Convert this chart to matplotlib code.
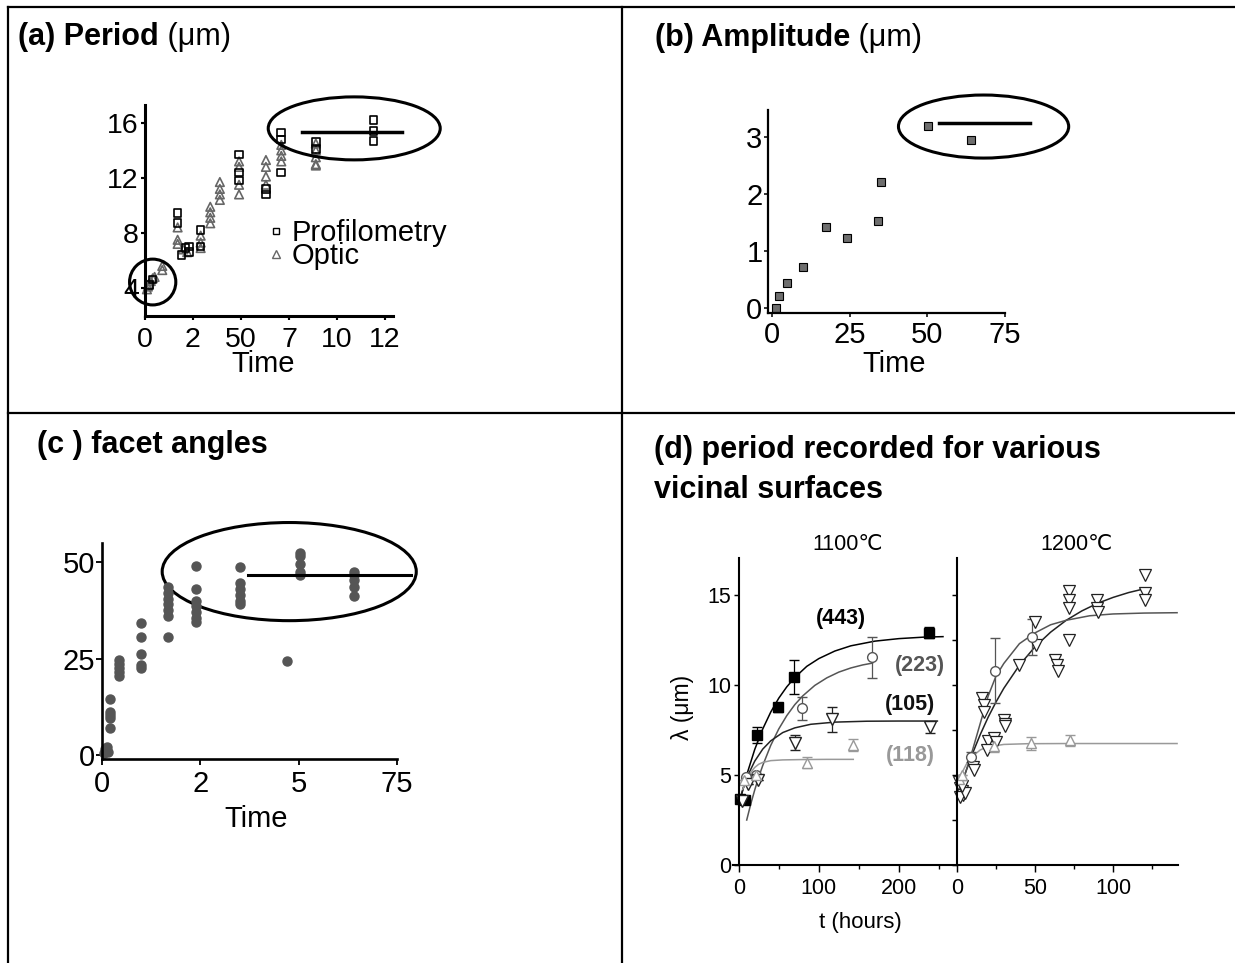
import numpy as np
import matplotlib
matplotlib.use('Agg')
import matplotlib.pyplot as plt
from matplotlib.patches import Ellipse
from matplotlib.lines import Line2D

plt.rcParams['font.family'] = ['Liberation Sans', 'DejaVu Sans', 'Noto Sans CJK SC']

W, H = 1235, 963

# ---- (a) period ----
a_prof_t = [2, 4, 17, 17, 19, 21, 23, 23, 29, 29, 49, 49, 49, 63, 63, 71, 71, 71, 89, 89, 119, 119, 119]
a_prof_y = [4.2, 4.6, 9.45, 8.7, 6.4, 6.9, 7.0, 6.6, 8.2, 7.0, 13.7, 12.4, 11.8, 11.2, 10.8,
            15.3, 14.8, 12.4, 14.6, 14.1, 16.2, 15.4, 14.7]
a_opt_t = [1, 1.5, 2, 3, 4, 5, 9, 9, 17, 17, 17, 20, 22, 29, 29, 29, 34, 34, 34, 34,
           39, 39, 39, 39, 49, 49, 49, 49, 63, 63, 63, 63, 71, 71, 71, 71, 89, 89, 89, 89, 89]
a_opt_y = [3.9, 4.1, 4.3, 4.5, 4.7, 4.8, 5.3, 5.6, 8.4, 7.5, 7.2, 6.8, 6.6, 7.8, 7.3, 6.9,
           9.9, 9.5, 9.1, 8.7, 11.7, 11.2, 10.8, 10.4, 13.2, 12.8, 11.5, 10.8,
           13.3, 12.8, 12.1, 11.5, 14.4, 14.0, 13.6, 13.2, 14.5, 14.0, 13.5, 13.0, 12.9]
a_plateau_t = [82, 134]
a_plateau_y = [15.35, 15.35]
a_xticks = [0, 25, 50, 75, 100, 125]
a_xticklabels = ['0', '2', '50', '7', '10', '12']
a_yticks = [4, 8, 12, 16]

# ---- (b) amplitude ----
b_t = [1.3, 2.2, 4.8, 10, 17.3, 24, 34, 35, 50.2, 64]
b_y = [0.0, 0.21, 0.44, 0.72, 1.42, 1.22, 1.53, 2.21, 3.19, 2.95]
b_plateau_t = [53.6, 83]
b_plateau_y = [3.24, 3.24]
b_xticks = [0, 25, 50, 75]
b_yticks = [0, 1, 2, 3]

# ---- (c) facet angles ----
c_t = [0.5, 1.0, 0.8, 1.2, 1.5,
       2, 2, 2, 2, 2,
       4.4, 4.4, 4.4, 4.4, 4.4,
       9.9, 9.9, 9.9, 9.9, 9.9,
       16.9, 16.9, 16.9, 16.9, 16.9, 16.9, 16.9,
       24, 24, 24, 24, 24, 24, 24,
       35, 35, 35, 35, 35, 35,
       47,
       50.3, 50.3, 50.3, 50.3, 50.3,
       64, 64, 64, 64, 64]
c_y = [0.5, 1.0, 1.5, 2.0, 0.8,
       14.6, 11.2, 10.5, 9.5, 7.1,
       24.5, 23.5, 22.5, 21.5, 20.5,
       34.3, 30.6, 26.2, 23.3, 22.5,
       43.5, 42, 40.5, 39, 37.5, 36, 30.5,
       49, 43, 40, 38.5, 37, 35.5, 34.5,
       48.7, 44.5, 43, 41.5, 40, 39.2,
       24.3,
       52.4, 51.5, 49.5, 47.5, 46.5,
       47.5, 46.5, 45.2, 43.6, 41.2]
c_plateau_t = [37, 78.6]
c_plateau_y = [46.7, 46.7]
c_xticks = [0, 25, 50, 75]
c_xticklabels = ['0', '2', '5', '75']
c_yticks = [0, 25, 50]

# ---- (d) 1100 C ----
d1_443_t = [2, 7.5, 23, 49, 69, 238]
d1_443_y = [3.65, 3.6, 7.22, 8.76, 10.46, 12.9]
d1_443_e = [0, 0, 0.45, 0.25, 0.95, 0.3]
d1_223_t = [9.6, 22, 79.6, 166.7]
d1_223_y = [4.9, 5.0, 8.7, 11.54]
d1_223_e = [0, 0, 0.65, 1.15]
d1_105_t = [4, 12, 24.6, 70, 116.7, 238.7]
d1_105_y = [3.55, 4.5, 4.75, 6.8, 8.1, 7.65]
d1_105_e = [0, 0, 0, 0.4, 0.7, 0.3]
d1_118_t = [6, 22, 85.4, 143]
d1_118_y = [4.7, 5.0, 5.68, 6.67]
d1_118_e = [0, 0, 0.3, 0.35]

d1_fit443_t = [0, 10, 20, 30, 40, 50, 60, 70, 85, 100, 120, 140, 170, 200, 230, 255]
d1_fit443_y = [3.3, 5.01, 6.42, 7.56, 8.5, 9.27, 9.9, 10.42, 11.04, 11.47, 11.89, 12.18, 12.44, 12.58, 12.66, 12.69]
d1_fit223_t = [10, 15, 20, 25, 30, 40, 50, 60, 70, 80, 95, 110, 125, 140, 155, 167]
d1_fit223_y = [2.5, 3.38, 4.17, 4.89, 5.53, 6.65, 7.56, 8.3, 8.91, 9.4, 9.98, 10.4, 10.72, 10.95, 11.12, 11.22]
d1_fit105_t = [3, 8, 13, 20, 30, 40, 55, 70, 90, 120, 160, 200, 248]
d1_fit105_y = [3.9, 4.57, 5.13, 5.77, 6.44, 6.9, 7.36, 7.62, 7.82, 7.94, 7.99, 8.0, 8.0]
d1_fit118_t = [5, 10, 15, 20, 25, 30, 40, 55, 80, 110, 143]
d1_fit118_y = [4.2, 4.75, 5.15, 5.42, 5.6, 5.7, 5.8, 5.84, 5.86, 5.87, 5.87]

# ---- (d) 1200 C ----
d2_105_t = [1, 2, 3, 4, 2, 5, 3, 10, 11, 16, 17, 17.5, 20, 19, 24, 25, 30, 30.5, 31, 40,
            49.8, 50.5, 63, 64, 64.5, 72, 72, 72, 72, 90, 90, 90.5, 120.7, 120.7, 120.7]
d2_105_y = [4.6, 4.3, 4.1, 3.9, 3.8, 4.0, 4.4, 5.46, 5.3, 9.3, 8.9, 8.5, 6.9, 6.4, 7.05, 6.85,
            8.05, 7.85, 7.7, 11.1, 13.5, 12.2, 11.4, 11.1, 10.8, 15.2, 14.7, 14.26, 12.5,
            14.7, 14.26, 14.07, 16.1, 15.1, 14.7]
d2_223_t = [9.2, 24.2, 48.3]
d2_223_y = [6.0, 10.8, 12.65]
d2_223_e = [0.3, 1.8, 1.0]
d2_118_t = [1, 3, 24, 47.7, 72.2]
d2_118_y = [4.8, 5.0, 6.6, 6.76, 6.94]
d2_118_e = [0, 0, 0.3, 0.35, 0.3]

d2_fit105_t = [0, 5, 10, 15, 20, 25, 30, 40, 50, 60, 70, 80, 90, 100, 110, 121]
d2_fit105_y = [3.7, 5.03, 6.21, 7.27, 8.22, 9.06, 9.82, 11.1, 12.13, 12.94, 13.6, 14.12, 14.54, 14.87, 15.14, 15.37]
d2_fit223_t = [0, 5, 10, 15, 20, 25, 30, 40, 50, 60, 70, 85, 100, 120, 141]
d2_fit223_y = [3.8, 5.0, 6.4, 7.9, 9.4, 10.5, 11.2, 12.3, 12.9, 13.35, 13.6, 13.85, 13.95, 14.0, 14.02]
d2_fit118_t = [0, 3, 6, 10, 15, 20, 30, 45, 70, 100, 141]
d2_fit118_y = [4.5, 5.1, 5.6, 6.05, 6.4, 6.57, 6.7, 6.74, 6.75, 6.75, 6.75]


def px_box(l, t, r, b):
    return [l / W, 1 - b / H, (r - l) / W, (b - t) / H]


def fx(x):
    return x / W


def fy(y):
    return 1 - y / H


def style(ax, lw, fs, tl=4, pad=2):
    for s in ['top', 'right']:
        ax.spines[s].set_visible(False)
    for s in ['left', 'bottom']:
        ax.spines[s].set_linewidth(lw)
    ax.tick_params(direction='out', length=tl, width=lw * 0.7, labelsize=fs, pad=pad)
    ax.patch.set_alpha(0)


TITLE = 22
fig = plt.figure(figsize=(12.35, 9.63), dpi=100)

# table borders
for xs, ys in [([8, 8], [7, 963]), ([8, 1235], [7, 7]), ([8, 1235], [413, 413]), ([622, 622], [7, 963])]:
    fig.add_artist(Line2D([fx(x) for x in xs], [fy(y) for y in ys], color='k', lw=1.6,
                          transform=fig.transFigure))

# ---- (a) ----
ax = fig.add_axes(px_box(145, 105, 393, 316))
style(ax, 2.2, 20.5, tl=3, pad=1.5)
ax.tick_params(axis='x', pad=5)
ax.scatter(a_opt_t, a_opt_y, marker='^', s=38, facecolors='none', edgecolors='#666666', linewidths=1.2, clip_on=False)
ax.scatter(a_prof_t, a_prof_y, marker='s', s=30, facecolors='none', edgecolors='k', linewidths=1.2, clip_on=False)
ax.plot(a_plateau_t, a_plateau_y, color='k', lw=2.5, clip_on=False)
ax.add_patch(Ellipse((109, 15.6), 89.6, 4.58, fill=False, lw=2.2, clip_on=False))
ax.add_patch(Ellipse((4.0, 4.43), 24.1, 3.33, fill=False, lw=2.2, clip_on=False))
ax.set_xlim(0, 129.2)
ax.set_ylim(1.96, 17.3)
ax.set_xticks(a_xticks)
ax.set_xticklabels(a_xticklabels)
ax.set_yticks(a_yticks)
h1 = Line2D([], [], ls='none', marker='s', ms=5, mfc='none', mec='k', mew=1)
h2 = Line2D([], [], ls='none', marker='^', ms=6, mfc='none', mec='#666666', mew=1)
ax.legend([h1, h2], ['Profilometry', 'Optic'], loc='upper left', bbox_to_anchor=(fx(267), fy(219)),
          bbox_transform=fig.transFigure, frameon=False, fontsize=21, handlelength=0.6,
          handletextpad=0.25, labelspacing=-0.16, borderpad=0, borderaxespad=0)
fig.text(fx(263), fy(372), 'Time', fontsize=21, ha='center', va='baseline')
t = fig.text(fx(18), fy(45), '(a) Period', fontsize=TITLE, fontweight='bold', va='baseline')
ax.annotate(' (μm)', xy=(1, 0), xycoords=t, fontsize=TITLE, va='bottom', ha='left')

# ---- (b) ----
ax = fig.add_axes(px_box(768, 110, 1005, 313))
style(ax, 1.6, 21, tl=3, pad=1)
ax.tick_params(axis='x', pad=3)
ax.plot(b_t, b_y, ls='none', marker='s', ms=6, mfc='#6e6e6e', mec='k', mew=0.8, clip_on=False)
ax.plot(b_plateau_t, b_plateau_y, color='k', lw=2.5, clip_on=False)
ax.add_patch(Ellipse((68.1, 3.18), 54.8, 1.105, fill=False, lw=2.2, clip_on=False))
ax.set_xlim(-1.3, 74.7)
ax.set_ylim(-0.088, 3.47)
ax.set_xticks(b_xticks)
ax.set_yticks(b_yticks)
fig.text(fx(894), fy(372), 'Time', fontsize=21, ha='center', va='baseline')
t = fig.text(fx(655), fy(46), '(b) Amplitude', fontsize=TITLE, fontweight='bold', va='baseline')
ax.annotate(' (μm)', xy=(1, 0), xycoords=t, fontsize=TITLE, va='bottom', ha='left')

# ---- (c) ----
ax = fig.add_axes(px_box(102, 543, 397, 759))
style(ax, 1.9, 21, tl=4, pad=1)
ax.tick_params(axis='x', pad=4)
ax.plot(c_t, c_y, ls='none', marker='o', ms=6.5, mfc='#555555', mec='#555555', clip_on=False)
ax.plot(c_plateau_t, c_plateau_y, color='k', lw=2.2, clip_on=False)
ax.add_patch(Ellipse((47.6, 47.5), 64.6, 25.4, fill=False, lw=2.2, clip_on=False))
ax.set_xlim(0, 75)
ax.set_ylim(-1.0, 54.9)
ax.set_xticks(c_xticks)
ax.set_xticklabels(c_xticklabels)
ax.set_yticks(c_yticks)
fig.text(fx(256), fy(827), 'Time', fontsize=21, ha='center', va='baseline')
fig.text(fx(37), fy(453), '(c ) facet angles', fontsize=TITLE, fontweight='bold', va='baseline')

# ---- (d) ----
fig.text(fx(654), fy(458), '(d) period recorded for various', fontsize=TITLE, fontweight='bold', va='baseline')
fig.text(fx(654), fy(498), 'vicinal surfaces', fontsize=TITLE, fontweight='bold', va='baseline')

c443, c223, c105, c118 = 'k', '#555555', '#222222', '#999999'
DFS = 15.5

ax1 = fig.add_axes(px_box(732.7, 558, 957, 865))
style(ax1, 1.5, DFS, tl=3.5, pad=2)
ax1.spines['left'].set_position(('data', 0))
ax1.plot(d1_fit443_t, d1_fit443_y, color=c443, lw=1.1)
ax1.plot(d1_fit223_t, d1_fit223_y, color=c223, lw=1.1)
ax1.plot(d1_fit105_t, d1_fit105_y, color=c105, lw=1.1)
ax1.plot(d1_fit118_t, d1_fit118_y, color=c118, lw=1.1)
ax1.errorbar(d1_443_t, d1_443_y, yerr=d1_443_e, fmt='s', ms=7, mfc=c443, mec=c443, ecolor=c443, elinewidth=0.9, capsize=3.5, clip_on=False)
ax1.errorbar(d1_223_t, d1_223_y, yerr=d1_223_e, fmt='o', ms=7, mfc='white', mec=c223, ecolor=c223, elinewidth=0.9, capsize=3.5)
ax1.errorbar(d1_105_t, d1_105_y, yerr=d1_105_e, fmt='v', ms=8, mfc='white', mec=c105, ecolor=c105, elinewidth=0.9, capsize=3.5)
ax1.errorbar(d1_118_t, d1_118_y, yerr=d1_118_e, fmt='^', ms=7, mfc='white', mec=c118, ecolor=c118, elinewidth=0.9, capsize=3.5)
for lbl, xx, yy, cc in [('(443)', 128, 13.7, c443), ('(223)', 226, 11.07, c223),
                        ('(105)', 214, 8.94, '#111111'), ('(118)', 214, 6.06, c118)]:
    ax1.text(xx, yy, lbl, fontsize=DFS, fontweight='bold', color=cc, ha='center', va='center', clip_on=False)
ax1.set_xlim(-7.5, 272.5)
ax1.set_ylim(0, 17.06)
ax1.set_xticks([0, 100, 200])
ax1.set_xticks([50, 150, 250], minor=True)
ax1.set_yticks([0, 5, 10, 15])
ax1.tick_params(axis='x', which='major', length=5, pad=4)
ax1.tick_params(axis='x', which='minor', length=3, width=1)

ax2 = fig.add_axes(px_box(957, 558, 1178, 865))
style(ax2, 1.5, DFS, tl=3.5, pad=2)
ax2.plot(d2_fit105_t, d2_fit105_y, color=c105, lw=1.1)
ax2.plot(d2_fit223_t, d2_fit223_y, color=c223, lw=1.1)
ax2.plot(d2_fit118_t, d2_fit118_y, color=c118, lw=1.1)
ax2.errorbar(d2_223_t, d2_223_y, yerr=d2_223_e, fmt='o', ms=7, mfc='white', mec=c223, ecolor=c223, elinewidth=0.9, capsize=3.5)
ax2.errorbar(d2_118_t, d2_118_y, yerr=d2_118_e, fmt='^', ms=7, mfc='white', mec=c118, ecolor=c118, elinewidth=0.9, capsize=3.5)
ax2.plot(d2_105_t, d2_105_y, ls='none', marker='v', ms=8, mfc='white', mec=c105, mew=0.9, clip_on=False)
ax2.set_xlim(0, 141.6)
ax2.set_ylim(0, 17.06)
ax2.set_xticks([0, 50, 100])
ax2.set_xticks([25, 75, 125], minor=True)
ax2.set_yticks(np.arange(0, 15.1, 2.5))
ax2.set_yticklabels([])
ax2.tick_params(axis='x', which='major', length=5, pad=4)
ax2.tick_params(axis='x', which='minor', length=3, width=1)

fig.text(fx(683), fy(707), 'λ (μm)', fontsize=16.5, rotation=90, ha='center', va='center')
fig.text(fx(848), fy(550), '1100℃', fontsize=DFS, ha='center', va='baseline')
fig.text(fx(1076), fy(550), '1200℃', fontsize=DFS, ha='center', va='baseline')
fig.text(fx(860), fy(928), 't (hours)', fontsize=16, ha='center', va='baseline')

fig.savefig('out.png', dpi=100)
